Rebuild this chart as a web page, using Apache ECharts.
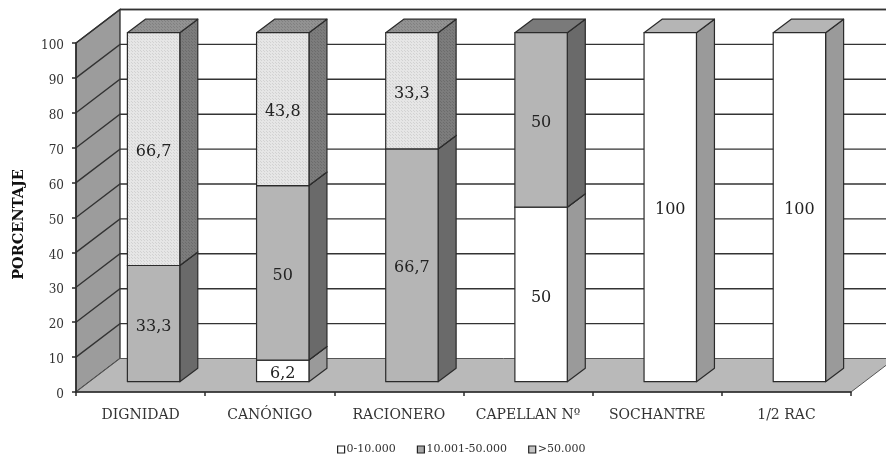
<!DOCTYPE html>
<html>
<head>
<meta charset="utf-8">
<style>
html, body { margin: 0; padding: 0; background: #fff; }
#main { width: 886px; height: 454px; }
</style>
<script src="https://cdn.jsdelivr.net/npm/echarts@6/dist/echarts.min.js"></script>
</head>
<body>
<div id="main"></div>
<script>
var categories = ['DIGNIDAD', 'CANÓNIGO', 'RACIONERO', 'CAPELLAN Nº', 'SOCHANTRE', '1/2 RAC'];
var yTicks = [10, 20, 30, 40, 50, 60, 70, 80, 90, 100];
var seriesNames = ['0-10.000', '10.001-50.000', '>50.000'];
var low = [0, 6.2, 0, 50, 100, 100];
var mid = [33.3, 50, 66.7, 50, 0, 0];
var high = [66.7, 43.8, 33.3, 0, 0, 0];

// dotted fill for the >50.000 segments
function dots(bg, dot) {
    var c = document.createElement('canvas');
    c.width = 3;
    c.height = 3;
    var ctx = c.getContext('2d');
    ctx.fillStyle = bg;
    ctx.fillRect(0, 0, 3, 3);
    ctx.fillStyle = dot;
    ctx.fillRect(0, 0, 1, 1);
    ctx.fillRect(2, 2, 1, 1);
    return { image: c, repeat: 'repeat' };
}

var LINE = '#2b2b2b';
var wallDx = 44, wallDy = -33.5;      // depth of the whole box
var barDx = 18, barDy = -13.5;        // depth of one bar
var barShiftX = 13, barShiftY = -10.3; // bars stand in the middle of the floor
var barHalf = 26.2;

// base of each segment, stacked by hand
function rows(values, below) {
    return values.map(function (v, i) {
        var base = 0;
        below.forEach(function (arr) { base += arr[i]; });
        return [i, base, base + v, v];
    });
}

function barRenderer(front, side, top) {
    return function (params, api) {
        var v = api.value(3);
        if (!v) return { type: 'group', children: [] };
        var a = api.coord([api.value(0), api.value(1)]);
        var b = api.coord([api.value(0), api.value(2)]);
        var x0 = a[0] + barShiftX - barHalf;
        var x1 = a[0] + barShiftX + barHalf;
        var y0 = a[1] + barShiftY;
        var y1 = b[1] + barShiftY;
        var st = { stroke: LINE, lineWidth: 1.2, lineJoin: 'round' };
        return {
            type: 'group',
            children: [
                { type: 'polygon', shape: { points: [[x1, y0], [x1 + barDx, y0 + barDy], [x1 + barDx, y1 + barDy], [x1, y1]] },
                  style: Object.assign({ fill: side }, st) },
                { type: 'polygon', shape: { points: [[x0, y1], [x1, y1], [x1 + barDx, y1 + barDy], [x0 + barDx, y1 + barDy]] },
                  style: Object.assign({ fill: top }, st) },
                { type: 'rect', shape: { x: x0, y: y1, width: x1 - x0, height: y0 - y1 },
                  style: Object.assign({ fill: front }, st) },
                { type: 'text', style: {
                    text: String(v).replace('.', ','),
                    x: (x0 + x1) / 2, y: (y0 + y1) / 2 + 3,
                    align: 'center', verticalAlign: 'middle',
                    font: '16px "DejaVu Serif"', fill: '#222'
                } }
            ]
        };
    };
}

var option = {
    animation: false,
    backgroundColor: '#fff',
    textStyle: { fontFamily: 'DejaVu Serif' },
    grid: { left: 76, top: 43, width: 775, height: 349, outerBoundsMode: 'none' },
    legend: {
        left: 332, top: 439,
        itemWidth: 7, itemHeight: 7, itemGap: 21,
        selectedMode: false,
        icon: 'rect',
        textStyle: { fontFamily: 'DejaVu Serif', fontSize: 11, color: '#333', padding: [0, 0, 0, -3] },
        data: [
            { name: seriesNames[0], itemStyle: { color: '#fff', borderColor: '#222', borderWidth: 1.2 } },
            { name: seriesNames[1], itemStyle: { color: '#a8a8a8', borderColor: '#222', borderWidth: 1.2 } },
            { name: seriesNames[2], itemStyle: { color: '#c4c4c4', borderColor: '#222', borderWidth: 1.2 } }
        ]
    },
    xAxis: {
        type: 'category',
        data: categories,
        axisLine: { lineStyle: { color: LINE, width: 1.5 } },
        axisTick: { show: true, length: 4, lineStyle: { color: LINE, width: 1.5 } },
        axisLabel: { interval: 0, fontFamily: 'DejaVu Serif', fontSize: 14, color: '#333', margin: 16 },
        z: 1
    },
    yAxis: {
        type: 'value',
        min: 0, max: 100, interval: 10,
        name: 'PORCENTAJE',
        nameLocation: 'middle',
        nameGap: 49,
        nameTextStyle: { fontFamily: 'DejaVu Serif', fontWeight: 'bold', fontSize: 14.5, color: '#111', padding: [0, 14, 0, 0] },
        splitLine: { show: false },
        axisLine: { show: true, lineStyle: { color: LINE, width: 1.5 } },
        axisTick: { show: true, length: 4, lineStyle: { color: LINE, width: 1.5 } },
        axisLabel: { fontFamily: 'DejaVu Serif', fontSize: 12, color: '#333', margin: 12, verticalAlign: 'top', lineHeight: 6 },
        z: 1
    },
    series: [
        // walls and floor
        {
            type: 'custom',
            silent: true,
            z: 0,
            data: [[0, 0]],
            renderItem: function (params, api) {
                var c0 = api.coord([0, 0]);
                var c1 = api.coord([0, 100]);
                var left = c0[0] - api.size([1, 0])[0] / 2;
                var right = left + api.size([1, 0])[0] * categories.length;
                var bot = c0[1], topY = c1[1];
                return {
                    type: 'group',
                    children: [
                        { type: 'polygon', shape: { points: [[left, bot], [left + wallDx, bot + wallDy], [left + wallDx, topY + wallDy], [left, topY]] },
                          style: { fill: '#9c9c9c', stroke: LINE, lineWidth: 1.3 } },
                        { type: 'polygon', shape: { points: [[left, bot], [right, bot], [right + wallDx, bot + wallDy], [left + wallDx, bot + wallDy]] },
                          style: { fill: '#b9b9b9', stroke: '#555', lineWidth: 1 } },
                        { type: 'line', shape: { x1: left + wallDx, y1: topY + wallDy, x2: right + wallDx, y2: topY + wallDy },
                          style: { stroke: '#444', lineWidth: 1.5 } }
                    ]
                };
            }
        },
        // grid lines: slanted on the left wall, flat on the back wall
        {
            type: 'custom',
            silent: true,
            z: 0,
            data: yTicks.map(function (t) { return [0, t]; }),
            renderItem: function (params, api) {
                var p = api.coord([0, api.value(1)]);
                var left = p[0] - api.size([1, 0])[0] / 2;
                var right = left + api.size([1, 0])[0] * categories.length;
                return {
                    type: 'polyline',
                    shape: { points: [[left, p[1]], [left + wallDx, p[1] + wallDy], [right + wallDx, p[1] + wallDy]] },
                    style: { stroke: '#333', lineWidth: 1.4, fill: null }
                };
            }
        },
        {
            name: seriesNames[0],
            type: 'custom',
            z: 2,
            encode: { x: 0, y: [1, 2] },
            data: rows(low, []),
            renderItem: barRenderer('#ffffff', '#9a9a9a', '#b5b5b5')
        },
        {
            name: seriesNames[1],
            type: 'custom',
            z: 3,
            encode: { x: 0, y: [1, 2] },
            data: rows(mid, [low]),
            renderItem: barRenderer('#b5b5b5', '#6a6a6a', '#7a7a7a')
        },
        {
            name: seriesNames[2],
            type: 'custom',
            z: 4,
            encode: { x: 0, y: [1, 2] },
            data: rows(high, [low, mid]),
            renderItem: barRenderer(dots('#e6e6e6', '#d2d2d2'), dots('#7c7c7c', '#6c6c6c'), dots('#929292', '#808080'))
        }
    ]
};

var myChart = echarts.init(document.getElementById('main'));
myChart.setOption(option);
</script>
</body>
</html>
